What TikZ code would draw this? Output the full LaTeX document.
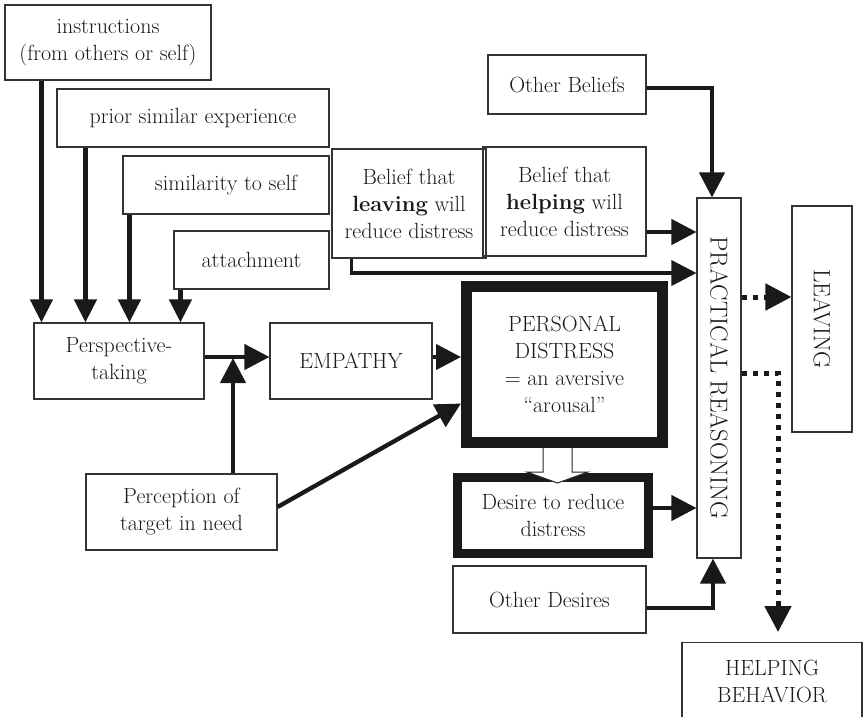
\documentclass[tikz,border=0pt]{standalone}
\usepackage{fontspec}
\usetikzlibrary{arrows.meta}

\begin{document}
\begin{tikzpicture}[x=1pt,y=-1pt,
  every node/.style={font=\fontsize{22}{27}\selectfont, text=black!90},
  box/.style={draw=black!80, line width=1.1pt, inner sep=0pt, align=center},
  arr/.style={draw=black!90, line width=4.3pt, -{Triangle[length=25pt,width=25pt]}},
  arrsmall/.style={arr, -{Triangle[length=23pt,width=22pt]}},
  arrthin/.style={arr, line width=3.6pt},
  dotline/.style={draw=black!90, line width=5pt, dash pattern=on 5pt off 6pt,
                  -{Triangle[length=26pt,width=26pt]}}]

\useasboundingbox (0,0) rectangle (863,716);

% --- inputs to perspective-taking ---
\node[box, minimum width=206pt, minimum height=75pt] (instr) at (108,42.5)
  {instructions\\(from others or self)};
\node[box, minimum width=272pt, minimum height=58pt] (prior) at (193,118)
  {prior similar experience};
\node[box, minimum width=206pt, minimum height=58pt] (sim) at (226,185)
  {similarity to self};
\node[box, minimum width=155pt, minimum height=58pt] (attach) at (251.5,260)
  {attachment};

% --- beliefs ---
\node[box, minimum width=154pt, minimum height=109pt] (bleave) at (409,203.5)
  {Belief that\\\textbf{leaving} will\\reduce distress};
\node[box, minimum width=163pt, minimum height=109pt] (bhelp) at (564.5,201.5)
  {Belief that\\\textbf{helping} will\\reduce distress};
\node[box, minimum width=158pt, minimum height=59pt] (obel) at (567,84.5)
  {Other Beliefs};

% --- practical reasoning and leaving ---
\node[box, minimum width=44pt, minimum height=360pt] (pr) at (719,378) {};
\node[rotate=-90, font=\fontsize{24.5}{27}\selectfont] (prtext) at (pr.center)
  {PRACTICAL REASONING};
\node[box, minimum width=60pt, minimum height=226pt] (leave) at (822,319) {};
\node[rotate=-90, font=\fontsize{23.5}{27}\selectfont] (leavetext) at (leave.center)
  {LEAVING};

% --- main chain ---
\node[box, minimum width=170pt, minimum height=76pt] (persp) at (119,361)
  {Perspective-\\taking};
\node[box, minimum width=162pt, minimum height=76pt] (emp) at (351,361)
  {EMPATHY};
\node[box, minimum width=191pt, minimum height=76pt] (percep) at (181.5,512)
  {Perception of\\target in need};
\node[box, draw=black!90, line width=11pt, minimum width=196pt, minimum height=156pt]
  (pd) at (564.5,364.5)
  {PERSONAL\\DISTRESS\\= an aversive\\“arousal”};
\node[box, draw=black!90, line width=9pt, minimum width=191pt, minimum height=76pt]
  (desire) at (553,515.5)
  {Desire to reduce\\distress};
\node[box, minimum width=193pt, minimum height=67pt] (odes) at (549.5,599.5)
  {Other Desires};
\node[box, anchor=north, minimum width=180pt, minimum height=78pt] (help) at (772,642)
  {HELPING\\BEHAVIOR};

% --- arrows into perspective-taking ---
\coordinate (a1) at ([xshift=37pt]instr.south west);
\coordinate (a2) at ([xshift=29pt]prior.south west);
\coordinate (a3) at ([xshift=7pt]sim.south west);
\coordinate (a4) at ([xshift=7pt]attach.south west);
\draw[arrsmall] (a1) -- (a1 |- persp.north);
\draw[arrsmall] (a2) -- (a2 |- persp.north);
\draw[arrsmall] (a3) -- (a3 |- persp.north);
\draw[arrsmall] (a4) -- (a4 |- persp.north);

% --- perspective-taking to empathy, perception joining in ---
\coordinate (j1) at ([yshift=4pt]persp.east);
\draw[arr] (j1) -- (j1 -| emp.west);
\coordinate (pv) at ([xshift=51.5pt]percep.north);
\draw[arr] (pv) -- ([yshift=-1pt]pv |- j1);
\draw[arr] ([yshift=5pt]percep.east) -- ([yshift=-39pt]pd.west);
\coordinate (e1) at ([yshift=4pt]emp.east);
\draw[arr] (e1) -- (e1 -| pd.west);

% --- distress gives rise to the desire (hollow arrow over the border) ---
\coordinate (hs) at (557.5,448);
\draw[draw=black!85, line width=1pt, fill=white, line join=miter]
  (543,448) -- (543,472) -- (527,472) -- (557.5,483)
  -- (588,472) -- (572,472) -- (572,448);

% --- inputs to practical reasoning ---
\coordinate (l1) at ([xshift=20pt]bleave.south west);
\coordinate (l2) at ([yshift=105pt]pr.west);
\draw[arrthin] (l1) |- (l2);
\coordinate (h1) at ([yshift=-30.5pt]bhelp.east);
\draw[arr] (h1) -- (h1 -| pr.west);
\coordinate (o2) at ([xshift=-7pt]pr.north);
\draw[arr] ([yshift=-3.5pt]obel.east) -| (o2);
\coordinate (d1) at ([yshift=7.5pt]desire.east);
\draw[arr] (d1) -- (d1 -| pr.west);
\coordinate (o3) at ([xshift=-6pt]pr.south);
\draw[arr] ([yshift=-8.5pt]odes.east) -| (o3);

% --- outcomes ---
\coordinate (q1) at ([yshift=81pt]pr.east);
\draw[dotline] (q1) -- (q1 -| leave.west);
\coordinate (q2) at ([yshift=5pt]pr.east);
\coordinate (q3) at ([xshift=6pt,yshift=10pt]help.north);
\draw[dotline] (q2) -| (q3);

\end{tikzpicture}
\end{document}
